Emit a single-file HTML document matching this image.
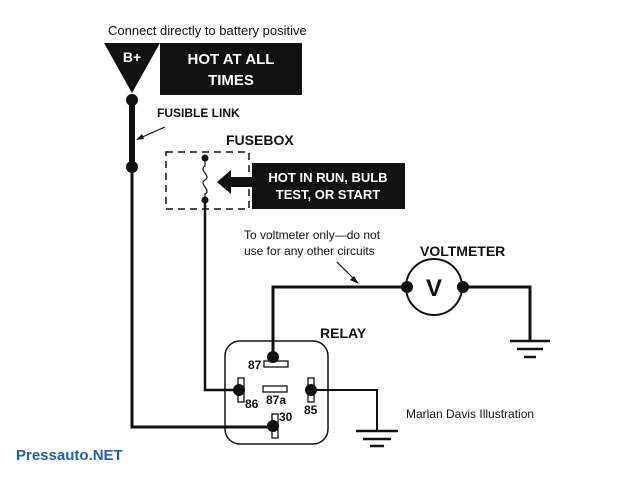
<!DOCTYPE html>
<html><head><style>body{margin:0;background:#fff}svg{display:block}</style></head><body>
<svg width="640" height="480" viewBox="0 0 640 480" font-family="Liberation Sans, sans-serif">
<rect width="640" height="480" fill="#fff"/>
<text x="108" y="35" font-size="13" fill="#111">Connect directly to battery positive</text>
<polygon points="104,43 160,43 132,93" fill="#111"/>
<text x="132" y="62" font-size="14" font-weight="bold" fill="#fff" text-anchor="middle">B+</text>
<rect x="160" y="43" width="142" height="52" fill="#111"/>
<text x="231" y="64" font-size="15" font-weight="bold" fill="#fff" text-anchor="middle">HOT AT ALL</text>
<text x="231" y="85" font-size="15" font-weight="bold" fill="#fff" text-anchor="middle">TIMES</text>
<line x1="132" y1="100" x2="132" y2="167" stroke="#111" stroke-width="6"/>
<circle cx="132" cy="100" r="6" fill="#111"/>
<circle cx="132" cy="167" r="6" fill="#111"/>
<polyline points="132,167 132,427 273,427" fill="none" stroke="#111" stroke-width="3"/>
<text x="157" y="117" font-size="12" font-weight="bold" fill="#111">FUSIBLE LINK</text>
<line x1="165" y1="127" x2="140" y2="138" stroke="#111" stroke-width="1.2"/>
<polygon points="136,140 142,134 144,139" fill="#111"/>
<text x="226" y="145" font-size="14" font-weight="bold" fill="#111">FUSEBOX</text>
<rect x="166" y="152" width="83" height="57" fill="none" stroke="#111" stroke-width="1.5" stroke-dasharray="7,5"/>
<path d="M205,158 L205,166 C198,170 212,176 205,180 C198,184 212,190 205,194 L205,200" fill="none" stroke="#111" stroke-width="1.2"/>
<circle cx="205" cy="158" r="3.5" fill="#111"/>
<circle cx="205" cy="200" r="3.5" fill="#111"/>
<polyline points="205,200 205,390 239,390" fill="none" stroke="#111" stroke-width="2.5"/>
<rect x="228" y="177" width="26" height="10" fill="#111"/>
<polygon points="217,182 231,170 231,194" fill="#111"/>
<rect x="252" y="163" width="153" height="46" fill="#111"/>
<text x="328" y="182" font-size="13" font-weight="bold" fill="#fff" text-anchor="middle">HOT IN RUN, BULB</text>
<text x="328" y="199" font-size="13" font-weight="bold" fill="#fff" text-anchor="middle">TEST, OR START</text>
<text x="244" y="239" font-size="12" fill="#111">To voltmeter only—do not</text>
<text x="244" y="255" font-size="12" fill="#111">use for any other circuits</text>
<line x1="337" y1="262" x2="356" y2="281" stroke="#111" stroke-width="1.2"/>
<polygon points="359,284 350,280 354,276" fill="#111"/>
<text x="420" y="256" font-size="14" font-weight="bold" fill="#111">VOLTMETER</text>
<polyline points="273,355 273,287 407,287" fill="none" stroke="#111" stroke-width="3"/>
<circle cx="434" cy="287" r="28" fill="#fff" stroke="#111" stroke-width="2"/>
<text x="434" y="296" font-size="24" font-weight="bold" fill="#111" text-anchor="middle">V</text>
<circle cx="407" cy="287" r="6" fill="#111"/>
<circle cx="463" cy="287" r="6" fill="#111"/>
<polyline points="463,287 530,287 530,340" fill="none" stroke="#111" stroke-width="3"/>
<line x1="510" y1="341" x2="550" y2="341" stroke="#111" stroke-width="2.5"/>
<line x1="517" y1="349" x2="543" y2="349" stroke="#111" stroke-width="2.5"/>
<line x1="524" y1="357" x2="536" y2="357" stroke="#111" stroke-width="2.5"/>
<text x="320" y="338" font-size="14" font-weight="bold" fill="#111">RELAY</text>
<rect x="225" y="341" width="103" height="103" rx="15" fill="none" stroke="#111" stroke-width="1.5"/>
<rect x="264" y="361" width="24" height="6" fill="#fff" stroke="#111" stroke-width="1.3"/>
<circle cx="273" cy="357" r="6" fill="#111"/>
<text x="248" y="369" font-size="12" font-weight="bold" fill="#111">87</text>
<rect x="263" y="386" width="24" height="6" fill="#fff" stroke="#111" stroke-width="1.3"/>
<text x="266" y="404" font-size="12" font-weight="bold" fill="#111">87a</text>
<rect x="238" y="378" width="6" height="24" fill="#fff" stroke="#111" stroke-width="1.3"/>
<circle cx="239" cy="390" r="6" fill="#111"/>
<text x="245" y="408" font-size="12" font-weight="bold" fill="#111">86</text>
<rect x="308" y="378" width="6" height="24" fill="#fff" stroke="#111" stroke-width="1.3"/>
<circle cx="311" cy="390" r="6" fill="#111"/>
<text x="304" y="414" font-size="12" font-weight="bold" fill="#111">85</text>
<rect x="272" y="414" width="6" height="24" fill="#fff" stroke="#111" stroke-width="1.3"/>
<circle cx="273" cy="426" r="6" fill="#111"/>
<text x="279" y="421" font-size="12" font-weight="bold" fill="#111">30</text>
<polyline points="311,390 377,390 377,431" fill="none" stroke="#111" stroke-width="2"/>
<line x1="356" y1="431" x2="398" y2="431" stroke="#111" stroke-width="2.5"/>
<line x1="363" y1="439" x2="391" y2="439" stroke="#111" stroke-width="2.5"/>
<line x1="370" y1="446" x2="384" y2="446" stroke="#111" stroke-width="2.5"/>
<text x="406" y="418" font-size="12" fill="#111">Marlan Davis Illustration</text>
<text x="16" y="460" font-size="15" font-weight="bold" fill="#1f5fb4">Pressauto.NET</text>
</svg>
</body></html>
